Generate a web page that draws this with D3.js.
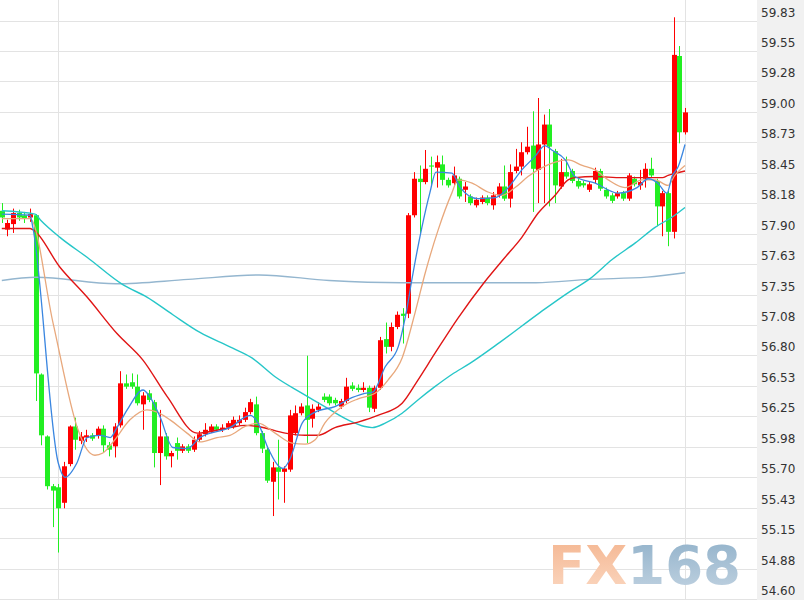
<!DOCTYPE html>
<html><head><meta charset="utf-8">
<script src="https://cdn.jsdelivr.net/npm/d3@7"></script>
<style>html,body{margin:0;padding:0;background:#fff;} svg{display:block;}</style>
</head><body>
<svg id="chart" width="804" height="600"></svg>
<script>
// ---- data ----
const opens  = [58.11,57.94,57.99,58.09,58.07,58.05,58.07,56.63,56.07,55.62,55.61,55.47,55.82,56.16,56.03,56.06,56.08,56.08,56.14,55.99,55.98,56.17,56.55,56.56,56.52,56.36,56.46,56.38,55.92,56.07,55.89,56.01,55.94,55.98,55.95,56.04,56.09,56.12,56.16,56.13,56.15,56.16,56.19,56.22,56.29,56.36,56.10,55.95,55.66,55.79,55.75,55.77,56.10,56.28,56.35,56.23,56.31,56.43,56.43,56.40,56.34,56.39,56.53,56.51,56.49,56.51,56.32,56.51,56.95,56.88,57.06,57.18,57.18,58.07,58.40,58.37,58.52,58.50,58.53,58.39,58.36,58.40,58.30,58.24,58.16,58.19,58.23,58.16,58.25,58.33,58.22,58.47,58.51,58.64,58.70,58.48,58.71,58.89,58.65,58.33,58.46,58.47,58.38,58.36,58.30,58.39,58.47,58.30,58.25,58.24,58.27,58.22,58.40,58.34,58.40,58.49,58.38,58.15,58.27,57.92,59.51,58.82];
const highs  = [58.18,58.03,58.13,58.12,58.10,58.13,58.08,56.64,56.08,55.64,55.64,55.84,56.17,56.24,56.11,56.13,56.10,56.16,56.17,56.02,56.19,56.66,56.63,56.64,56.63,56.47,56.49,56.40,56.31,56.10,55.94,56.06,56.00,56.00,56.07,56.12,56.19,56.18,56.18,56.18,56.21,56.25,56.26,56.33,56.41,56.43,56.12,55.97,55.84,56.04,55.80,56.31,56.35,56.37,56.80,56.36,56.38,56.46,56.45,56.42,56.41,56.60,56.56,56.54,56.56,56.53,56.53,56.97,57.10,57.10,57.20,57.23,58.09,58.46,58.52,58.66,58.60,58.61,58.61,58.41,58.51,58.42,58.37,58.26,58.23,58.25,58.25,58.28,58.36,58.52,58.53,58.67,58.73,58.87,59.01,59.13,58.98,59.03,58.67,58.58,58.60,58.49,58.40,58.38,58.37,58.50,58.49,58.32,58.27,58.29,58.29,58.45,58.42,58.48,58.54,58.59,58.40,58.29,58.29,59.86,59.60,59.04];
const lows   = [58.00,57.88,57.91,58.02,58.00,58.01,56.39,55.99,55.59,55.25,55.02,55.42,55.80,55.95,56.00,56.02,56.03,56.05,55.93,55.89,55.88,56.15,56.50,56.50,56.35,56.13,56.38,55.79,55.63,55.86,55.79,55.86,55.92,55.92,55.93,56.02,56.07,56.10,56.11,56.11,56.13,56.14,56.17,56.20,56.27,56.08,55.92,55.65,55.35,55.50,55.47,55.75,56.08,56.26,56.01,56.15,56.29,56.38,56.35,56.35,56.32,56.37,56.48,56.47,56.47,56.29,56.29,56.49,56.82,56.84,57.04,56.91,57.14,58.05,57.91,58.35,58.33,58.32,58.34,58.32,58.34,58.22,58.19,58.16,58.14,58.17,58.16,58.12,58.23,58.20,58.14,58.45,58.43,58.62,58.10,58.18,58.18,58.15,58.18,58.31,58.40,58.36,58.31,58.32,58.28,58.36,58.29,58.22,58.18,58.22,58.20,58.20,58.33,58.30,58.32,58.41,57.97,57.88,57.79,57.86,58.72,58.80];
const closes = [58.05,58.00,58.09,58.05,58.04,58.08,56.64,56.08,55.62,55.58,55.42,55.80,56.16,56.04,56.07,56.08,56.05,56.14,55.99,55.95,56.16,56.55,56.52,56.52,56.37,56.44,56.40,55.92,56.07,55.89,55.92,55.94,55.98,55.94,56.04,56.09,56.13,56.16,56.13,56.15,56.19,56.22,56.22,56.29,56.38,56.10,55.96,55.67,55.79,55.75,55.78,56.26,56.28,56.34,56.22,56.32,56.34,56.40,56.37,56.37,56.39,56.52,56.50,56.49,56.51,56.33,56.51,56.94,56.88,57.06,57.17,57.16,58.07,58.40,58.37,58.49,58.51,58.55,58.39,58.34,58.43,58.24,58.33,58.18,58.21,58.23,58.18,58.25,58.33,58.22,58.46,58.51,58.64,58.69,58.49,58.71,58.89,58.69,58.34,58.46,58.42,58.38,58.33,58.34,58.35,58.47,58.31,58.24,58.20,58.27,58.22,58.43,58.35,58.37,58.49,58.43,58.15,58.27,57.92,59.52,58.82,59.00];

// moving-average lines: [candle index, price]
const maBlue = [[0,58.08],[5,58.07],[5.5,57.96],[10,55.83],[11.2,55.70],[13.3,55.83],[15.1,56.06],[17.4,56.08],[19.2,56.06],[20.4,56.15],[22.2,56.31],[25,56.49],[26.2,56.43],[28,56.25],[30.3,55.97],[32.8,55.96],[35.1,56.06],[40.4,56.15],[44,56.26],[45.4,56.19],[47.1,55.97],[49.8,55.78],[51,55.86],[53.2,56.19],[55.5,56.29],[59,56.34],[62,56.42],[64.3,56.46],[65.7,56.47],[67.9,56.70],[70.2,56.88],[71.8,57.24],[72.6,57.48],[74.4,57.96],[75.8,58.27],[76.9,58.46],[79.7,58.45],[81.2,58.32],[84.3,58.22],[87.4,58.23],[89.7,58.32],[92.1,58.48],[94.4,58.60],[96.2,58.70],[97.4,58.66],[99.8,58.57],[101.5,58.42],[105.1,58.36],[109.1,58.27],[112.5,58.32],[114.5,58.40],[116.2,58.36],[117.8,58.27],[118.7,58.42],[119.8,58.51],[121,58.71]];
const maTan = [[0,58.04],[5,58.04],[9.1,57.09],[13.5,56.13],[15.1,55.95],[16.5,55.90],[17.9,55.92],[19.7,56.02],[22.7,56.22],[25.7,56.31],[27.5,56.29],[29.8,56.22],[32.8,56.10],[35.1,56.02],[38.1,56.06],[40.4,56.08],[43.1,56.16],[45.4,56.19],[48.4,56.10],[51.4,56.01],[53.7,56.00],[55.5,56.04],[57.2,56.19],[60.3,56.34],[63.1,56.41],[66.1,56.46],[68.4,56.58],[70.9,56.78],[73.2,57.19],[75,57.55],[77.3,57.94],[79.7,58.27],[80.8,58.39],[83.3,58.36],[86.1,58.28],[88.6,58.25],[90.9,58.32],[93.2,58.42],[95.7,58.50],[98,58.55],[100.3,58.57],[102.8,58.52],[105.1,58.48],[107.4,58.39],[110.4,58.32],[113.4,58.39],[115.7,58.39],[118,58.34],[119.2,58.43],[121,58.52]];
const maRed = [[0,57.95],[5,57.95],[5.5,57.94],[10.3,57.60],[15.1,57.33],[20.4,57.00],[25,56.76],[29.3,56.43],[34.6,56.10],[40.4,56.15],[43.1,56.17],[45.4,56.16],[50.2,56.10],[53.7,56.08],[56,56.08],[59,56.15],[63.1,56.20],[66.6,56.26],[70.9,56.37],[73.7,56.58],[76.7,56.82],[80.8,57.14],[85.4,57.46],[88.8,57.67],[92.1,57.87],[95,58.09],[98,58.25],[100.3,58.39],[101.5,58.41],[105.1,58.42],[109.8,58.41],[114.5,58.41],[117,58.41],[118,58.43],[121,58.47]];
const maCyan = [[0,58.11],[5.9,58.08],[6.8,58.03],[10.3,57.87],[15.1,57.69],[21.5,57.44],[25.7,57.33],[30.3,57.17],[35.1,57.01],[40.4,56.88],[44.3,56.78],[48.4,56.61],[53.2,56.46],[57.2,56.34],[61.3,56.22],[64.3,56.16],[65.6,56.15],[67.9,56.19],[70.9,56.28],[73.7,56.40],[76.7,56.52],[79.7,56.63],[82.9,56.73],[88.2,56.92],[95.3,57.19],[100.6,57.38],[104,57.49],[108.1,57.67],[112.2,57.82],[115.7,57.96],[119.2,58.07],[121,58.14]];
const maGray = [[0,57.48],[6.1,57.51],[20.2,57.45],[33,57.49],[45.6,57.53],[58,57.48],[70.9,57.46],[94.6,57.46],[104,57.49],[114.3,57.51],[121,57.55]];

const tickLabels = ["59.83","59.55","59.28","59.00","58.73","58.45","58.18","57.90","57.63","57.35","57.08","56.80","56.53","56.25","55.98","55.70","55.43","55.15","54.88","54.60"];
const dayBreaks = [10, 121];

// ---- drawing ----
const svg = d3.select("#chart");
const n = closes.length;
const x = d3.scaleLinear().domain([0, n - 1]).range([1.8, 685]);
const y = d3.scaleLinear().domain([54.60, 59.83]).range([599, 20.6]);
const plotRight = 757;

// axis panel
svg.append("rect").attr("x", plotRight).attr("y", 0).attr("width", 804 - plotRight).attr("height", 600).attr("fill", "#f1f1f1");

// horizontal grid
const gridY = d3.scaleLinear().domain([0, tickLabels.length - 1]).range([59.83, 54.60]);
svg.append("g").selectAll("line").data(tickLabels).join("line")
  .attr("x1", 0).attr("x2", plotRight)
  .attr("y1", (d, i) => Math.round(y(gridY(i))) + 0.5)
  .attr("y2", (d, i) => Math.round(y(gridY(i))) + 0.5)
  .attr("stroke", "#e3e3e3").attr("stroke-width", 1);

// vertical day separators
svg.append("g").selectAll("line").data(dayBreaks).join("line")
  .attr("x1", d => Math.round(x(d)) + 0.5).attr("x2", d => Math.round(x(d)) + 0.5)
  .attr("y1", 0).attr("y2", 600)
  .attr("stroke", "#e3e3e3").attr("stroke-width", 1);

// right axis labels
const axis = d3.axisRight(y)
  .tickValues(tickLabels.map((d, i) => gridY(i)))
  .tickSize(0).tickPadding(0)
  .tickFormat((d, i) => tickLabels[i]);
const ag = svg.append("g").attr("transform", `translate(${plotRight + 4},0)`).call(axis);
ag.select(".domain").remove();
ag.selectAll("text").attr("dy", -4.5).attr("fill", "#333")
  .style("font-family", "'DejaVu Sans', Verdana, sans-serif").style("font-size", "12px");

// watermark
const defs = svg.append("defs");
const g1 = defs.append("linearGradient").attr("id", "gfx").attr("x1", 0).attr("y1", 0).attr("x2", 0).attr("y2", 1);
g1.append("stop").attr("offset", "0%").attr("stop-color", "#f4b48e");
g1.append("stop").attr("offset", "100%").attr("stop-color", "#fbd9c3");
const g2 = defs.append("linearGradient").attr("id", "gnum").attr("x1", 0).attr("y1", 0).attr("x2", 0).attr("y2", 1);
g2.append("stop").attr("offset", "0%").attr("stop-color", "#8fb0c9");
g2.append("stop").attr("offset", "100%").attr("stop-color", "#c3d4e2");
const wm = svg.append("text").attr("x", 548).attr("y", 584)
  .attr("textLength", 193).attr("lengthAdjust", "spacingAndGlyphs")
  .style("font-family", "'DejaVu Sans', sans-serif").style("font-weight", "bold").style("font-size", "54px");
wm.append("tspan").attr("fill", "url(#gfx)").text("FX");
wm.append("tspan").attr("fill", "url(#gnum)").text("168");

// candles
const idx = d3.range(n);
const up = i => closes[i] >= opens[i];
const cg = svg.append("g");
cg.selectAll("line").data(idx).join("line")
  .attr("x1", i => Math.round(x(i)) + 0.5).attr("x2", i => Math.round(x(i)) + 0.5)
  .attr("y1", i => y(highs[i])).attr("y2", i => y(lows[i]))
  .attr("stroke", i => up(i) ? "#ff0000" : "#22ee22").attr("stroke-width", 1);
cg.selectAll("rect").data(idx).join("rect")
  .attr("x", i => Math.round(x(i)) - 2)
  .attr("width", 5)
  .attr("y", i => y(Math.max(opens[i], closes[i])))
  .attr("height", i => Math.max(1, Math.abs(y(opens[i]) - y(closes[i]))))
  .attr("fill", i => up(i) ? "#ff0000" : "#22ee22");

// moving averages
const line = d3.line().x(d => x(d[0])).y(d => y(d[1])).curve(d3.curveMonotoneX);
const series = [
  [maGray, "#94b6cf", 1.4],
  [maCyan, "#26c6c8", 1.4],
  [maRed, "#e01515", 1.4],
  [maTan, "#e8a87c", 1.3],
  [maBlue, "#3a86e0", 1.3]
];
series.forEach(([data, color, w]) => {
  svg.append("path").datum(data).attr("d", line)
    .attr("fill", "none").attr("stroke", color).attr("stroke-width", w);
});
</script>
</body></html>
